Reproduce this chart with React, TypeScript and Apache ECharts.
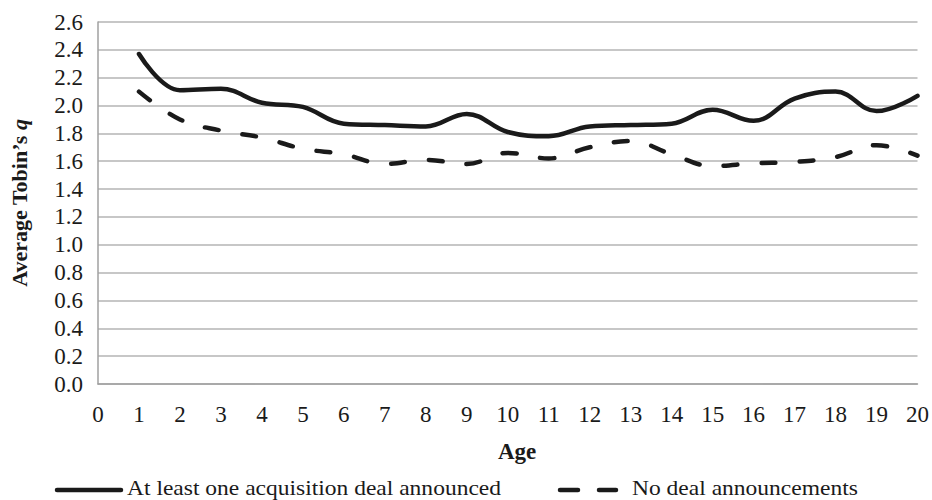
import React, { useEffect, useRef } from "react";
import * as echarts from "echarts";

// Firm age (years) and average Tobin's q for the two groups of firms
const ages = [1, 2, 3, 4, 5, 6, 7, 8, 9, 10, 11, 12, 13, 14, 15, 16, 17, 18, 19, 20];
const dealAnnounced = [2.37, 2.11, 2.12, 2.02, 1.99, 1.87, 1.86, 1.85, 1.94, 1.81, 1.78, 1.85, 1.86, 1.87, 1.97, 1.89, 2.05, 2.1, 1.96, 2.07];
const noDeal = [2.1, 1.9, 1.82, 1.77, 1.69, 1.65, 1.58, 1.61, 1.58, 1.66, 1.62, 1.7, 1.745, 1.65, 1.565, 1.585, 1.595, 1.63, 1.715, 1.64];

const seriesNames = ["At least one acquisition deal announced", "No deal announcements"];

const FONT = "'Liberation Serif', 'Times New Roman', serif";
const INK = "#1a1a1a";
const GRID = "#b4b4b4";
const LEGEND_Y = 490;

export default function App() {
  const ref = useRef<HTMLDivElement>(null);

  useEffect(() => {
    if (!ref.current) return;
    const chart = echarts.init(ref.current, null, { renderer: "svg" });
    const pairs = (vals: number[]) => ages.map((a, i) => [a, vals[i]]);

    const legendText = (text: string, x: number) => ({
      type: "text",
      x,
      y: LEGEND_Y - 2,
      scaleX: 1.12,
      style: {
        text,
        font: `21px ${FONT}`,
        fill: INK,
        textVerticalAlign: "middle",
        verticalAlign: "middle",
      },
    });

    chart.setOption({
      animation: false,
      backgroundColor: "#ffffff",
      textStyle: { fontFamily: FONT, color: INK },
      grid: { left: 89, right: 14, top: 22, bottom: 116, containLabel: false },
      xAxis: {
        type: "value",
        min: 0,
        max: 20,
        interval: 1,
        axisLine: { show: true, lineStyle: { color: "#a0a0a0", width: 1.5 } },
        axisTick: { show: false },
        splitLine: { show: false },
        axisLabel: { fontFamily: FONT, fontSize: 23, color: INK, margin: 19 },
      },
      yAxis: {
        type: "value",
        min: 0,
        max: 2.6,
        interval: 0.2,
        axisLine: { show: true, lineStyle: { color: "#a0a0a0", width: 1.5 } },
        axisTick: { show: false },
        splitLine: { show: true, lineStyle: { color: GRID, width: 1.5 } },
        axisLabel: {
          fontFamily: FONT,
          fontSize: 23,
          color: INK,
          margin: 15,
          formatter: (v: number) => v.toFixed(1),
        },
        name: "{b|Average Tobin\u2019s }{i|q}",
        nameLocation: "middle",
        nameGap: 68,
        nameTextStyle: {
          rich: {
            b: { fontFamily: FONT, fontSize: 22, fontWeight: "bold", color: INK },
            i: { fontFamily: FONT, fontSize: 22, fontWeight: "bold", fontStyle: "italic", color: INK },
          },
        },
      },
      graphic: [
        {
          type: "text",
          left: 498,
          top: 440,
          style: { text: "Age", font: `bold 23px ${FONT}`, fill: INK },
        },
        // legend: solid sample
        {
          type: "line",
          shape: { x1: 57, y1: LEGEND_Y, x2: 121, y2: LEGEND_Y },
          style: { stroke: INK, lineWidth: 4.5, lineCap: "round" },
        },
        legendText(seriesNames[0], 127),
        // legend: dashed sample
        {
          type: "line",
          shape: { x1: 560, y1: LEGEND_Y, x2: 578, y2: LEGEND_Y },
          style: { stroke: INK, lineWidth: 4.5, lineCap: "round" },
        },
        {
          type: "line",
          shape: { x1: 599, y1: LEGEND_Y, x2: 616, y2: LEGEND_Y },
          style: { stroke: INK, lineWidth: 4.5, lineCap: "round" },
        },
        legendText(seriesNames[1], 632),
      ],
      series: [
        {
          name: seriesNames[0],
          type: "line",
          data: pairs(dealAnnounced),
          smooth: 0.4,
          symbol: "none",
          lineStyle: { color: INK, width: 4.5, cap: "round" },
          itemStyle: { color: INK },
        },
        {
          name: seriesNames[1],
          type: "line",
          data: pairs(noDeal),
          smooth: 0.4,
          symbol: "none",
          lineStyle: { color: INK, width: 4.5, type: [14, 24], cap: "round" },
          itemStyle: { color: INK },
        },
      ],
    });

    return () => chart.dispose();
  }, []);

  return (
    <div
      ref={ref}
      style={{ position: "fixed", left: 0, top: 0, width: 932, height: 500 }}
    />
  );
}
